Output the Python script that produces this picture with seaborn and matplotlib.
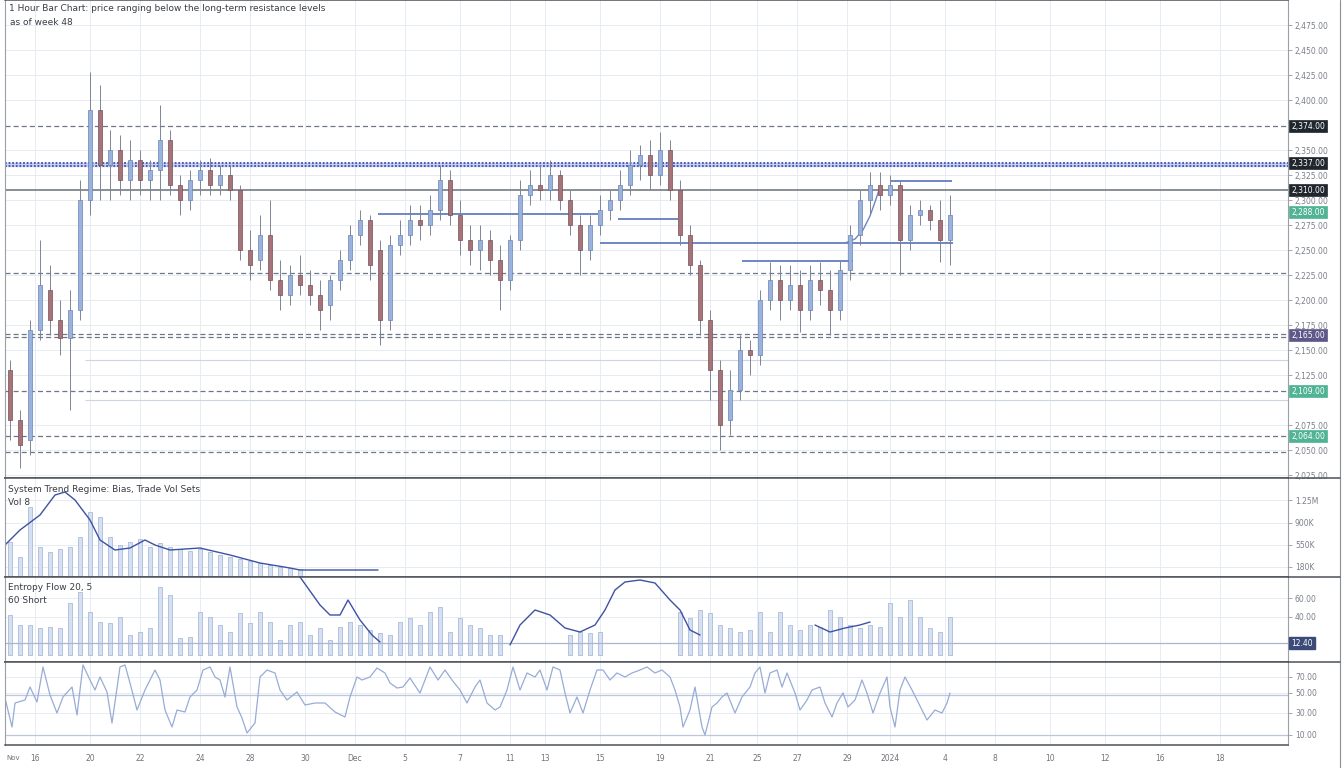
import numpy as np
import pandas as pd
import matplotlib
matplotlib.use("Agg")
import matplotlib.pyplot as plt
from matplotlib.lines import Line2D
import seaborn as sns

# ---------------- data ----------------
open_ = [2130, 2080, 2060, 2170, 2210, 2180, 2162, 2190, 2300, 2390,
         2335, 2350, 2320, 2340, 2320, 2330, 2360, 2315, 2300, 2320,
         2330, 2315, 2325, 2310, 2250, 2240, 2265, 2220, 2205, 2225,
         2215, 2205, 2195, 2220, 2240, 2265, 2280, 2250, 2180, 2255,
         2265, 2280, 2275, 2290, 2320, 2285, 2260, 2250, 2260, 2240,
         2220, 2260, 2305, 2315, 2310, 2325, 2300, 2275, 2250, 2275,
         2290, 2300, 2315, 2335, 2345, 2325, 2350, 2310, 2265, 2235,
         2180, 2130, 2080, 2110, 2150, 2145, 2200, 2220, 2200, 2215,
         2190, 2220, 2210, 2190, 2230, 2265, 2300, 2315, 2305, 2315,
         2260, 2285, 2290, 2280, 2260]
close_ = [2080, 2055, 2170, 2215, 2180, 2162, 2190, 2300, 2390, 2335,
          2350, 2320, 2340, 2320, 2330, 2360, 2315, 2300, 2320, 2330,
          2315, 2325, 2310, 2250, 2235, 2265, 2220, 2205, 2225, 2215,
          2205, 2190, 2220, 2240, 2265, 2280, 2235, 2180, 2255, 2265,
          2280, 2275, 2290, 2320, 2285, 2260, 2250, 2260, 2240, 2220,
          2260, 2305, 2315, 2310, 2325, 2300, 2275, 2250, 2275, 2290,
          2300, 2315, 2335, 2345, 2325, 2350, 2310, 2265, 2235, 2180,
          2130, 2075, 2110, 2150, 2145, 2200, 2220, 2200, 2215, 2190,
          2220, 2210, 2190, 2230, 2265, 2300, 2315, 2305, 2315, 2260,
          2285, 2290, 2280, 2260, 2285]
high_ = [2140, 2090, 2180, 2260, 2235, 2200, 2210, 2320, 2428, 2415,
         2370, 2365, 2360, 2350, 2340, 2395, 2370, 2325, 2330, 2340,
         2342, 2335, 2335, 2315, 2270, 2285, 2300, 2240, 2235, 2245,
         2230, 2220, 2225, 2250, 2275, 2290, 2285, 2260, 2265, 2280,
         2295, 2295, 2305, 2335, 2330, 2300, 2275, 2275, 2270, 2255,
         2265, 2320, 2330, 2335, 2340, 2330, 2310, 2285, 2285, 2305,
         2310, 2330, 2350, 2355, 2360, 2368, 2360, 2320, 2275, 2240,
         2190, 2140, 2130, 2165, 2160, 2210, 2238, 2235, 2235, 2230,
         2235, 2238, 2230, 2240, 2275, 2310, 2328, 2328, 2325, 2320,
         2295, 2300, 2295, 2300, 2305]
low_ = [2060, 2032, 2045, 2160, 2165, 2145, 2090, 2180, 2285, 2300,
        2300, 2305, 2300, 2305, 2300, 2300, 2305, 2285, 2290, 2305,
        2305, 2305, 2300, 2240, 2220, 2230, 2210, 2190, 2195, 2205,
        2195, 2170, 2180, 2210, 2230, 2255, 2220, 2155, 2170, 2245,
        2255, 2260, 2265, 2280, 2275, 2245, 2235, 2230, 2225, 2190,
        2210, 2250, 2295, 2300, 2300, 2290, 2265, 2225, 2240, 2265,
        2280, 2290, 2305, 2320, 2310, 2315, 2300, 2255, 2225, 2165,
        2100, 2050, 2065, 2100, 2125, 2135, 2190, 2180, 2190, 2168,
        2180, 2195, 2165, 2180, 2220, 2255, 2285, 2290, 2295, 2225,
        2250, 2275, 2270, 2238, 2235]
bar_step = 10  # time units per candle

# horizontal key levels
dashed_levels = [2374, 2227, 2166, 2163, 2109, 2064, 2048]
blue_band_levels = [2337, 2334]
solid_level = 2310
faint_levels = [2140, 2100]
# box labels on the price scale: (level, style)
box_levels = [2374, 2337, 2310, 2288, 2165, 2109, 2064]
box_styles = ["dark", "dark", "dark", "green", "purple", "green", "green"]

# blue segments (level, start time, end time)
seg_level = [2286, 2281, 2257, 2239, 2319]
seg_start = [368, 608, 590, 732, 880]
seg_end = [588, 668, 943, 843, 942]
arc_t = [835, 845, 853, 860, 865, 869]
arc_v = [2257, 2261, 2270, 2284, 2298, 2310]

# panel 2: volume-like bars and trend line
p2_bars = [35, 20, 70, 30, 25, 28, 30, 40, 65, 60, 40, 32, 35, 38, 30,
           34, 30, 28, 26, 28, 25, 22, 20, 18, 16, 14, 12, 10, 9, 8]
p2_line_t = [-5, 10, 30, 45, 55, 65, 80, 90, 105, 120, 135, 145, 160, 190,
             220, 250, 280, 290, 368]
p2_line_v = [32, 47, 62, 82, 85, 77, 57, 37, 27, 29, 37, 32, 27, 29, 22, 14,
             9, 7, 7]

# panel 3: flow bars and flow line segments
p3_bars = [40, 30, 30, 27, 28, 27, 52, 63, 43, 33, 32, 38, 20, 23, 27, 68,
           60, 17, 18, 43, 38, 30, 23, 42, 32, 43, 33, 15, 30, 33, 20, 27,
           15, 28, 33, 30, 25, 22, 20, 33, 37, 30, 43, 48, 23, 37, 30, 27,
           20, 20, 0, 0, 0, 0, 0, 0, 20, 23, 22, 23, 0, 0, 0, 0, 0, 0, 0,
           43, 37, 45, 42, 30, 27, 23, 25, 43, 23, 43, 30, 25, 30, 28, 45,
           38, 30, 27, 30, 28, 52, 38, 55, 38, 27, 23, 38]
p3_seg_a_t = [290, 310, 320, 330, 338, 350, 362, 370]
p3_seg_a_v = [78, 50, 40, 40, 55, 35, 20, 13]
p3_seg_b_t = [500, 510, 525, 540, 555, 570, 585, 595, 605, 615, 630, 645,
              660, 670, 680, 690]
p3_seg_b_v = [10, 30, 45, 40, 27, 23, 30, 45, 65, 73, 75, 72, 55, 45, 25, 20]
p3_seg_c_t = [805, 820, 835, 850, 860]
p3_seg_c_v = [30, 23, 27, 30, 33]

# panel 4: oscillator
osc_t = [-5, 2, 5, 15, 20, 27, 33, 40, 47, 53, 62, 67, 73, 80, 85, 90, 97,
         102, 110, 115, 120, 127, 135, 145, 150, 155, 162, 167, 175, 180,
         187, 193, 200, 205, 210, 215, 220, 227, 232, 237, 245, 250, 257,
         265, 270, 277, 287, 295, 305, 315, 325, 335, 340, 347, 352, 360,
         367, 375, 380, 387, 393, 400, 410, 420, 428, 435, 442, 450, 457,
         465, 470, 477, 485, 490, 497, 503, 510, 517, 525, 530, 537, 543,
         550, 555, 560, 567, 573, 580, 587, 593, 600, 607, 615, 622, 630,
         637, 645, 652, 660, 665, 670, 673, 680, 685, 692, 695, 702, 707,
         712, 717, 725, 732, 740, 745, 750, 755, 760, 767, 772, 777, 785,
         790, 797, 802, 810, 815, 822, 827, 833, 838, 845, 852, 857, 863,
         870, 877, 880, 885, 890, 895, 902, 907, 912, 917, 925, 932, 937,
         940]
osc_v = [47, 18, 42, 45, 58, 43, 78, 50, 32, 48, 58, 30, 80, 65, 55, 68, 53,
         22, 78, 80, 62, 35, 55, 75, 65, 35, 18, 35, 33, 48, 55, 75, 78, 68,
         65, 48, 78, 38, 27, 12, 22, 68, 75, 72, 55, 45, 53, 40, 42, 42, 33,
         28, 48, 68, 65, 68, 77, 72, 62, 57, 58, 67, 52, 78, 65, 75, 65, 55,
         42, 58, 65, 42, 35, 38, 55, 78, 55, 72, 68, 75, 55, 78, 75, 52, 32,
         48, 32, 55, 75, 75, 65, 72, 68, 72, 75, 78, 72, 75, 68, 55, 38, 18,
         35, 58, 18, 10, 38, 42, 48, 52, 32, 48, 58, 72, 78, 52, 72, 75, 58,
         72, 52, 35, 45, 55, 58, 42, 28, 42, 52, 38, 45, 65, 52, 32, 52, 68,
         38, 18, 55, 68, 55, 45, 35, 25, 35, 32, 42, 52]

tick_t = [25, 80, 130, 190, 240, 295, 345, 395, 450, 500, 535, 590, 650,
          700, 747, 787, 837, 880, 935, 985, 1040, 1095, 1150, 1210]
tick_labels = ["16", "20", "22", "24", "28", "30", "Dec", "5", "7", "11",
               "13", "15", "19", "21", "25", "27", "29", "2024", "4", "8",
               "10", "12", "16", "18"]

title_lines = ["1 Hour Bar Chart: price ranging below the long-term resistance levels",
               "as of week 48"]
p2_title = ["System Trend Regime: Bias, Trade Vol Sets", "Vol 8"]
p3_title = ["Entropy Flow 20, 5", "60 Short"]
axis_start_label = "Nov"

# ---------------- styling ----------------
sns.set_theme(style="whitegrid", rc={
    "grid.color": "#e7ebf2", "grid.linewidth": 0.7,
    "axes.edgecolor": "#5a5f68", "axes.linewidth": 0.9,
    "xtick.color": "#777", "ytick.color": "#777",
})
plt.rcParams["font.family"] = ["DejaVu Sans"]

W, H = 1344, 768
fig = plt.figure(figsize=(W / 100, H / 100), dpi=100)
fig.patch.set_facecolor("white")


def rect(top, bottom):
    return [5 / W, 1 - bottom / H, 1283 / W, (bottom - top) / H]


ax1 = fig.add_axes(rect(0, 478))
ax2 = fig.add_axes(rect(478, 577), sharex=ax1)
ax3 = fig.add_axes(rect(577, 662), sharex=ax1)
ax4 = fig.add_axes(rect(662, 745), sharex=ax1)
axes = [ax1, ax2, ax3, ax4]

for ax in axes:
    ax.set_facecolor("white")
    ax.yaxis.tick_right()
    ax.tick_params(axis="y", length=3, width=0.6, pad=2, labelsize=5.5,
                   labelcolor="#7a7f88", color="#999")
    ax.tick_params(axis="x", length=3, width=0.6, labelsize=5.5,
                   labelcolor="#6f737a", color="#999")
    for s in ["top", "bottom"]:
        ax.spines[s].set_color("#4d5159")
        ax.spines[s].set_linewidth(1.1)
    ax.spines["left"].set_color("#9aa0aa")
    ax.spines["right"].set_color("#9aa0aa")
    ax.spines["left"].set_linewidth(0.8)
    ax.spines["right"].set_linewidth(0.8)
    if ax is not ax4:
        ax.tick_params(axis="x", labelbottom=False, length=0)

ax1.set_xlim(-5, 1278)
ax1.set_xticks(tick_t)
ax4.set_xticklabels(tick_labels)

# ---------------- price panel ----------------
df = pd.DataFrame({"t": np.arange(len(open_)) * bar_step, "open": open_,
                   "close": close_, "high": high_, "low": low_})
up = df["close"] >= df["open"]
body_col = np.where(up, "#9bb3da", "#a5747a")
edge_col = np.where(up, "#6683b8", "#7a4d53")
ax1.set_ylim(2022, 2500)

for lv in dashed_levels:
    ax1.axhline(lv, color="#6d7789", lw=0.9, ls=(0, (4, 2.5)), zorder=2)
for lv in blue_band_levels:
    ax1.axhline(lv, color="#3c4fb5", lw=1.3, ls=(0, (1, 1)), zorder=2)
ax1.axhspan(min(blue_band_levels), max(blue_band_levels), color="#c9d0f0", zorder=1)
ax1.axhline(solid_level, color="#6a6f78", lw=1.1, zorder=2)
for lv in faint_levels:
    ax1.hlines(lv, 75, 1278, color="#cdd4e2", lw=0.8, zorder=1)

ax1.hlines(seg_level, seg_start, seg_end, color="#6f86c4", lw=1.4, zorder=3)
sns.lineplot(x=arc_t, y=arc_v, ax=ax1, color="#6f86c4", lw=1.0,
             estimator=None, sort=False, legend=False)

ax1.vlines(df["t"], df["low"], df["high"], colors="#7c8596", lw=0.7, zorder=4)
ax1.bar(df["t"], (df["close"] - df["open"]).abs().clip(lower=1.5),
        bottom=df[["open", "close"]].min(axis=1), width=4.5,
        color=body_col, edgecolor=edge_col, linewidth=0.5, zorder=5)

yt = [v for v in range(2025, 2500, 25)
      if all(abs(v - b) > 9 for b in box_levels)]
ax1.set_yticks(yt)
ax1.set_yticklabels([f"{v:,.2f}" for v in yt])

style_map = {"dark": ("#20262e", "white"), "green": ("#4fb394", "white"),
             "purple": ("#5d5889", "white")}
ytr = ax1.get_yaxis_transform()
for lv, st in zip(box_levels, box_styles):
    fc, tc = style_map[st]
    ax1.text(1.0025, lv, f"{lv:,.2f}", transform=ytr, ha="left", va="center",
             fontsize=5.5, color=tc, clip_on=False, zorder=10,
             bbox=dict(boxstyle="square,pad=0.25", fc=fc, ec=fc, lw=0.5))

ax1.text(0.003, 0.992, title_lines[0], transform=ax1.transAxes, ha="left",
         va="top", fontsize=6.5, color="#3a3d44")
ax1.text(0.004, 0.962, title_lines[1], transform=ax1.transAxes, ha="left",
         va="top", fontsize=6.5, color="#3a3d44")

# ---------------- panel 2 ----------------
ax2.set_ylim(0, 99)
t2 = np.arange(len(p2_bars)) * bar_step
ax2.bar(t2, p2_bars, width=4, color="#d6e0f1", edgecolor="#a9bcdd", lw=0.6)
sns.lineplot(x=p2_line_t, y=p2_line_v, ax=ax2, color="#3e52a3", lw=1.0,
             estimator=None, sort=False, legend=False)
ax2.set_yticks([77, 54, 32, 10])
ax2.set_yticklabels(["1.25M", "900K", "550K", "180K"])
ax2.text(0.002, 0.93, p2_title[0], transform=ax2.transAxes, ha="left",
         va="top", fontsize=6.5, color="#3a3d44")
ax2.text(0.002, 0.80, p2_title[1], transform=ax2.transAxes, ha="left",
         va="top", fontsize=6.5, color="#3a3d44")

# ---------------- panel 3 ----------------
ax3.set_ylim(-7, 78)
p3 = pd.DataFrame({"t": np.arange(len(p3_bars)) * bar_step, "v": p3_bars})
p3 = p3[p3["v"] > 0]
ax3.bar(p3["t"], p3["v"], width=4, color="#d6e0f1", edgecolor="#a9bcdd", lw=0.6)
ax3.axhline(12, color="#aab6cf", lw=0.9)
for st, sv in [(p3_seg_a_t, p3_seg_a_v), (p3_seg_b_t, p3_seg_b_v),
               (p3_seg_c_t, p3_seg_c_v)]:
    sns.lineplot(x=st, y=sv, ax=ax3, color="#3e52a3", lw=1.0,
                 estimator=None, sort=False, legend=False)
ax3.set_yticks([57, 38, 12])
ax3.set_yticklabels(["60.00", "40.00", ""])
ax3.text(1.0025, 12, "12.40", transform=ax3.get_yaxis_transform(),
         ha="left", va="center", fontsize=5.5, color="white", clip_on=False,
         bbox=dict(boxstyle="square,pad=0.25", fc="#3b4a78", ec="#3b4a78"))
ax3.text(0.002, 0.93, p3_title[0], transform=ax3.transAxes, ha="left",
         va="top", fontsize=6.5, color="#3a3d44")
ax3.text(0.002, 0.78, p3_title[1], transform=ax3.transAxes, ha="left",
         va="top", fontsize=6.5, color="#3a3d44")

# ---------------- panel 4 ----------------
ax4.set_ylim(0, 83)
ax4.axhline(50, color="#bcc7dd", lw=0.9)
ax4.axhline(10, color="#bcc7dd", lw=0.9)
sns.lineplot(x=osc_t, y=osc_v, ax=ax4, color="#98acd6", lw=0.9,
             estimator=None, sort=False, legend=False)
ax4.set_yticks([68, 52, 32, 10])
ax4.set_yticklabels(["70.00", "50.00", "30.00", "10.00"])
ax4.text(0.001, -0.12, axis_start_label, transform=ax4.transAxes, ha="left",
         va="top", fontsize=5.0, color="#6f737a")

for ax in axes:
    ax.set_xlabel("")
    ax.set_ylabel("")

# outer right border of the price scale column
fig.add_artist(Line2D([1340 / W, 1340 / W], [0, 1], color="#8a8f98", lw=0.8))
for ypx in [478, 577, 662]:
    fig.add_artist(Line2D([1288 / W, 1340 / W], [1 - ypx / H] * 2,
                          color="#4d5159", lw=1.1))

fig.savefig("out.png", dpi=100, facecolor="white")
